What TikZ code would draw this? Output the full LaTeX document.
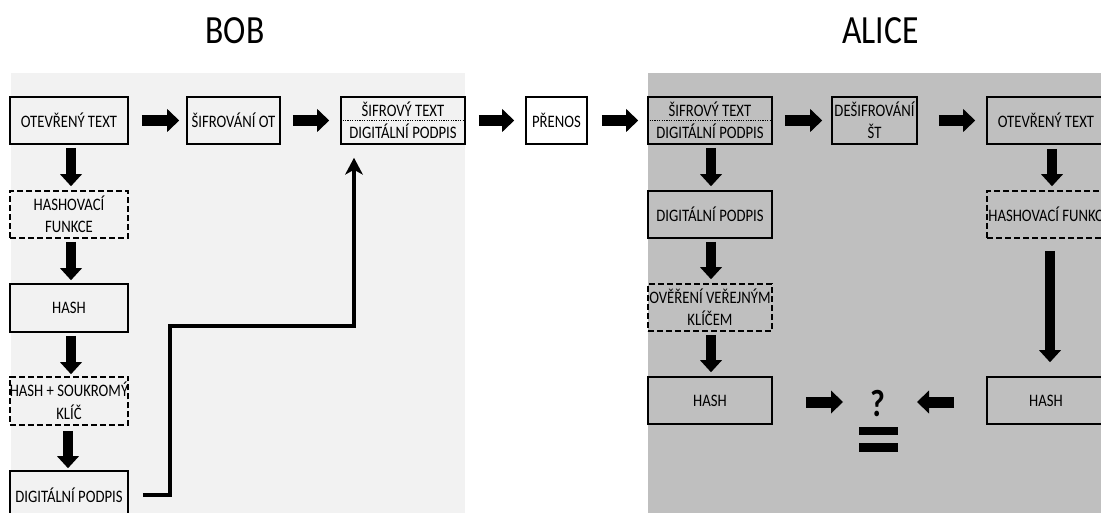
\documentclass[tikz,border=0pt]{standalone}
\usepackage{fontspec}
\setmainfont{Carlito}[FakeStretch=0.84]
\newfontfamily\titlefont{Carlito}[FakeStretch=0.84]
\usetikzlibrary{arrows.meta}
\definecolor{bobbg}{HTML}{F2F2F2}
\definecolor{alicebg}{HTML}{BFBFBF}
\tikzset{
  box/.style={draw, line width=1.6pt, minimum width=118pt, minimum height=47pt,
    inner sep=0pt, align=center, font=\fontsize{17.5}{22.5}\selectfont},
  dbox/.style={box, dash pattern=on 6pt off 3pt},
  harrow/.style={line width=11pt, -{Triangle[length=12pt,width=23pt,line width=0pt]}},
  varrow/.style={line width=10pt, -{Triangle[length=12pt,width=22pt,line width=0pt]}},
  conn/.style={line width=3.5pt, line join=miter,
    -{Stealth[length=17pt,width=18pt,inset=5pt,line width=0pt]}},
  title/.style={inner sep=0pt, font=\titlefont\fontsize{40}{40}\selectfont},
  sep/.style={line width=0.8pt, dash pattern=on 1.2pt off 1.2pt},
}
\begin{document}
\begin{tikzpicture}[x=1pt,y=-1pt]
\useasboundingbox (0,0) rectangle (1101,513);
\clip (0,0) rectangle (1101,513);
\fill[white] (0,0) rectangle (1101,513);
% backgrounds
\fill[bobbg] (11,73) rectangle (465,513);
\fill[alicebg] (648,73) rectangle (1101,513);
% titles
\node[title] (bob) at (235,30.5) {BOB};
\node[title] (alice) at (880.5,30.5) {ALICE};
% Bob
\node[box] (b1) at (69,120.5) {OTEVŘENÝ TEXT};
\node[box, minimum width=93pt] (b2) at (233.5,120.5) {ŠIFROVÁNÍ OT};
\node[box, minimum width=124pt] (b3) at (403,120.5) {ŠIFROVÝ TEXT\\DIGITÁLNÍ PODPIS};
\draw[sep] (b3.west) -- (b3.east);
\node[dbox] (b4) at (69,214.5) {HASHOVACÍ\\FUNKCE};
\node[box, minimum height=48pt] (b5) at (69,308) {HASH};
\node[dbox, minimum height=48pt] (b6) at (69,401) {HASH + SOUKROMÝ\\KLÍČ};
\node[box, minimum height=48pt] (b7) at (69,495) {DIGITÁLNÍ PODPIS};
% transfer
\node[box, minimum width=61pt] (p) at (556.5,120.5) {PŘENOS};
% Alice
\node[box, minimum width=124pt] (a1) at (710,120.5) {ŠIFROVÝ TEXT\\DIGITÁLNÍ PODPIS};
\draw[sep] (a1.west) -- (a1.east);
\node[box, minimum width=85pt] (a2) at (874.5,120.5) {DEŠIFROVÁNÍ\\ŠT};
\node[box] (a3) at (1046,120.5) {OTEVŘENÝ TEXT};
\node[box, minimum width=124pt] (a4) at (710,214.5) {DIGITÁLNÍ PODPIS};
\node[dbox, minimum width=124pt] (a5) at (710,307.5) {OVĚŘENÍ VEŘEJNÝM\\KLÍČEM};
\node[box, minimum width=124pt] (a6) at (710,400.5) {HASH};
\node[dbox] (a7) at (1046,214.5) {};
\node[anchor=west, inner sep=0pt, font=\fontsize{17.5}{22.5}\selectfont] (a7t) at ([xshift=2pt]a7.west) {HASHOVACÍ FUNKCE};
\node[box] (a8) at (1046,400.5) {HASH};
\node[inner sep=0pt, font=\bfseries\fontsize{38}{38}\selectfont] (q) at (878,403.5) {?};
\fill (859,427) rectangle (898,435);
\fill (859,443) rectangle (898,452);
% horizontal block arrows
\draw[harrow] ([xshift=13pt]b1.east) -- ([xshift=-7pt]b2.west);
\draw[harrow] ([xshift=12pt]b2.east) -- ([xshift=-11pt]b3.west);
\draw[harrow] ([xshift=13pt]b3.east) -- ([xshift=-11pt]p.west);
\draw[harrow] ([xshift=14pt]p.east) -- ([xshift=-9pt]a1.west);
\draw[harrow] ([xshift=12pt]a1.east) -- ([xshift=-9pt]a2.west);
\draw[harrow] ([xshift=21pt]a2.east) -- ([xshift=-11pt]a3.west);
\draw[harrow] ([xshift=33pt,yshift=-1.5pt]a6.east) -- ([xshift=-35pt,yshift=1.5pt]q.center);
\draw[harrow] ([xshift=-32pt,yshift=-1.5pt]a8.west) -- ([xshift=39pt,yshift=1.5pt]q.center);
% vertical block arrows
\draw[varrow] ([xshift=2pt,yshift=-3pt]b1.south) -- ([xshift=2pt,yshift=4pt]b4.north);
\draw[varrow] ([xshift=2pt,yshift=-3pt]b4.south) -- ([xshift=2pt,yshift=3pt]b5.north);
\draw[varrow] ([xshift=2pt,yshift=-3pt]b5.south) -- ([xshift=2pt,yshift=2pt]b6.north);
\draw[varrow] ([xshift=-1pt,yshift=-5pt]b6.south) -- ([xshift=-1pt,yshift=2pt]b7.north);
\draw[varrow] ([xshift=1pt,yshift=-3pt]a1.south) -- ([xshift=1pt,yshift=4pt]a4.north);
\draw[varrow] ([xshift=1pt,yshift=-3pt]a4.south) -- ([xshift=1pt,yshift=4pt]a5.north);
\draw[varrow] ([xshift=1pt,yshift=-3pt]a5.south) -- ([xshift=1pt,yshift=4pt]a6.north);
\draw[varrow] ([xshift=6pt,yshift=-4pt]a3.south) -- ([xshift=6pt,yshift=4pt]a7.north);
\draw[varrow] ([xshift=4pt,yshift=-12pt]a7.south) -- ([xshift=4pt,yshift=14pt]a8.north);
% signature connector
\draw[conn] ([xshift=14pt]b7.east) -| (170,326) -| ([xshift=-49pt,yshift=-13pt]b3.south);
\end{tikzpicture}
\end{document}
